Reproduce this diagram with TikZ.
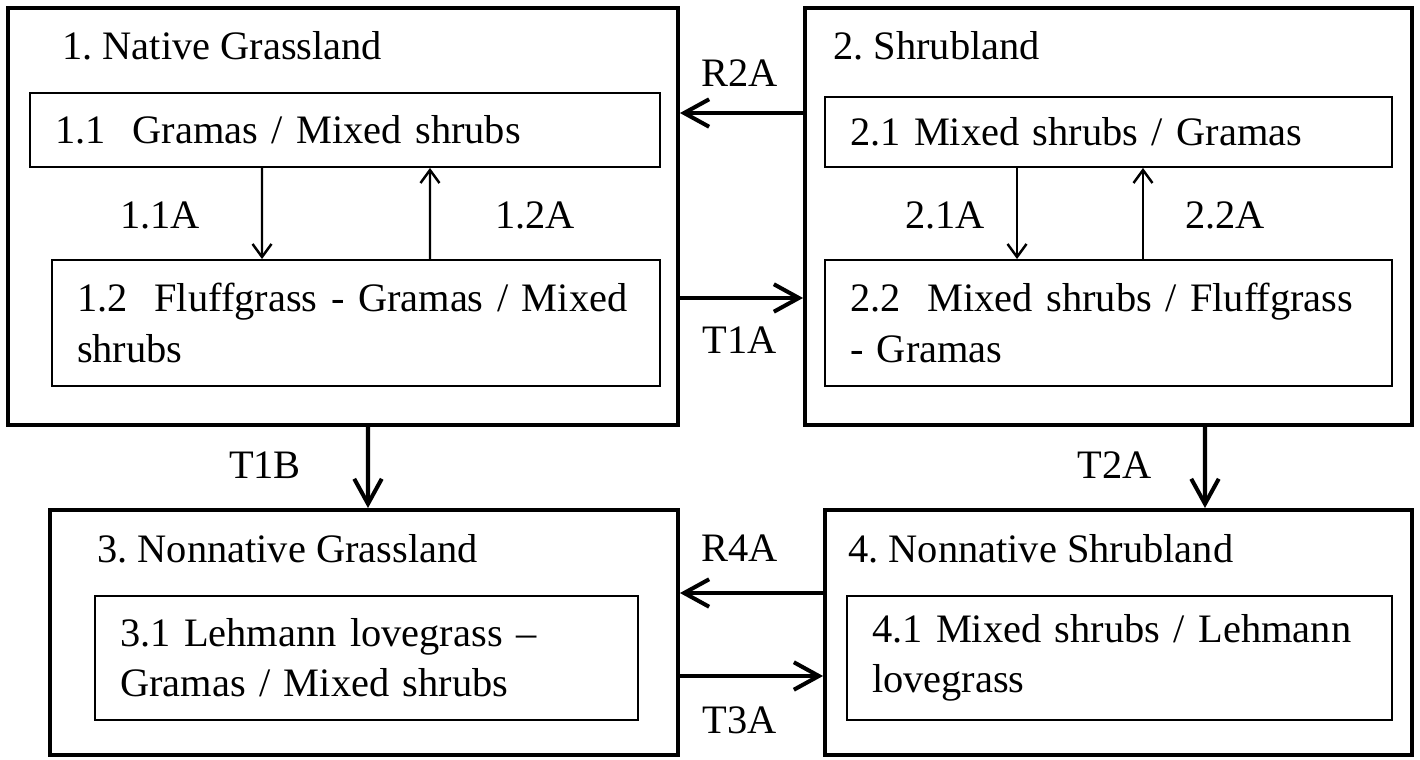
\documentclass[tikz,border=0pt]{standalone}
\usepackage{fontspec}
\setmainfont{Liberation Serif}
\usetikzlibrary{arrows.meta,positioning}
\newcommand{\statefont}{\fontsize{23}{28.5}\selectfont\frenchspacing}

\begin{document}
\begin{tikzpicture}[
            x=0.02cm, y=-0.02cm,
            state/.style={
                    rectangle,
                    draw,
                    line width=2.3pt,
                    inner sep=0pt
                },
            substate/.style={
                    rectangle,
                    draw,
                    line width=1.1pt,
                    align=left,
                    inner xsep=0.5cm,
                    inner ysep=0pt,
                    font=\statefont
                },
            title/.style={anchor=base west, inner sep=0pt, font=\statefont},
            lbl/.style={inner sep=0pt, font=\statefont},
            bigarrow/.style={-{Straight Barb[length=0.5cm, width=0.55cm, line width=2.3pt]}, line width=2.3pt},
            smallarrow/.style={-{Straight Barb[length=0.26cm, width=0.38cm, line width=1.4pt]}, line width=1.3pt}
        ]
        \useasboundingbox (0,0) rectangle (1420,760);

        % states
        \node[state, minimum width=13.4cm, minimum height=8.34cm] (b1) at (343,216.5) {};
        \node[state, minimum width=12.14cm, minimum height=8.34cm] (b2) at (1108.5,216.5) {};
        \node[state, minimum width=12.56cm, minimum height=4.9cm] (b3) at (364,632.5) {};
        \node[state, minimum width=11.74cm, minimum height=4.9cm] (b4) at (1118.5,632.5) {};

        \node[title] (t1) at (62,60) {1. Native Grassland};
        \node[title] (t2) at (833,60) {2. Shrubland};
        \node[title] (t3) at (97,562) {3. Nonnative Grassland};
        \node[title] (t4) at (848,562) {4. Nonnative Shrubland};

        % communities
        \node[substate, text width=11.6cm, minimum height=1.48cm] (s11) at (345,130) {1.1~~Gramas / Mixed shrubs};
        \node[substate, text width=11.16cm, minimum height=2.52cm] (s12) at (356,323) {1.2~~Fluffgrass - Gramas / Mixed\\shrubs};
        \node[substate, text width=10.34cm, minimum height=1.4cm] (s21) at (1108.5,132) {2.1 Mixed shrubs / Gramas};
        \node[substate, text width=10.34cm, minimum height=2.52cm] (s22) at (1108.5,323) {2.2~~Mixed shrubs / Fluffgrass\\- Gramas};
        \node[substate, text width=9.86cm, minimum height=2.48cm] (s31) at (366.5,658) {3.1 Lehmann lovegrass --\\Gramas / Mixed shrubs};
        \node[substate, text width=9.9cm, minimum height=2.48cm] (s41) at (1119.5,658) {4.1 Mixed shrubs / Lehmann\\lovegrass};

        % pathways
        \draw[smallarrow] ([xshift=-1.66cm]s11.south) -- ([xshift=-1.88cm]s12.north);
        \draw[smallarrow] ([xshift=1.48cm]s12.north) -- ([xshift=1.7cm]s11.south);
        \draw[smallarrow] ([xshift=-1.83cm]s21.south) -- ([xshift=-1.83cm]s22.north);
        \draw[smallarrow] ([xshift=0.69cm]s22.north) -- ([xshift=0.69cm]s21.south);

        % transitions
        \draw[bigarrow] ([yshift=2.07cm]b2.west) -- ([yshift=2.07cm]b1.east);
        \draw[bigarrow] ([yshift=-1.63cm]b1.east) -- ([yshift=-1.63cm]b2.west);
        \draw[bigarrow] ([xshift=0.5cm]b1.south) -- ([xshift=0.08cm]b3.north);
        \draw[bigarrow] ([xshift=1.93cm]b2.south) -- ([xshift=1.73cm]b4.north);
        \draw[bigarrow] ([yshift=0.79cm]b4.west) -- ([yshift=0.79cm]b3.east);
        \draw[bigarrow] ([yshift=-0.87cm]b3.east) -- ([yshift=-0.87cm]b4.west);

        \node[lbl] (l11) at (160,215) {1.1A};
        \node[lbl] (l12) at (535,215) {1.2A};
        \node[lbl] (l21) at (945,215) {2.1A};
        \node[lbl] (l22) at (1225,215) {2.2A};
        \node[lbl] (r2a) at (740,73) {R2A};
        \node[lbl] (t1a) at (740,340) {T1A};
        \node[lbl] (t1b) at (265,465) {T1B};
        \node[lbl] (t2a) at (1115,465) {T2A};
        \node[lbl] (r4a) at (740,548) {R4A};
        \node[lbl] (t3a) at (740,720) {T3A};
    \end{tikzpicture}
\end{document}
